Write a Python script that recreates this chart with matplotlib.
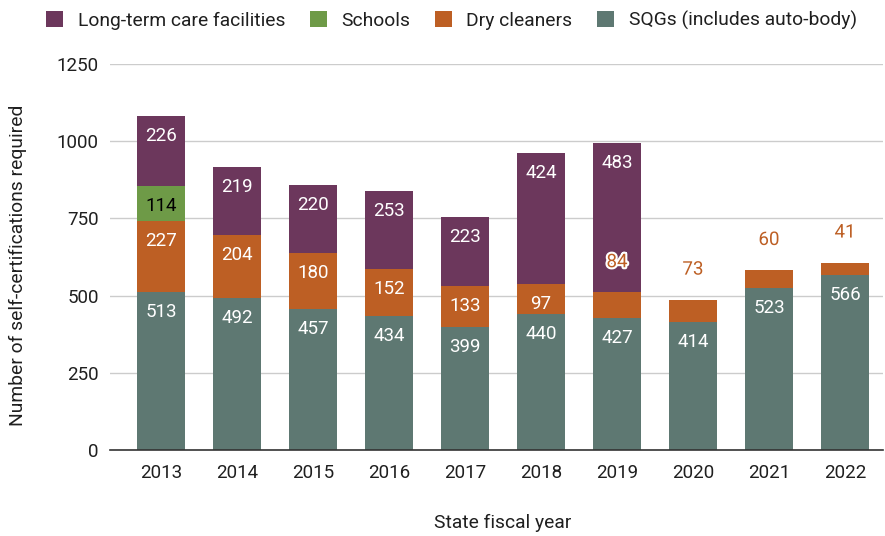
import matplotlib
matplotlib.use('Agg')
import matplotlib.pyplot as plt
import matplotlib.patheffects as pe
import numpy as np

plt.rcParams['font.family'] = ['Roboto', 'DejaVu Sans']

years = ['2013', '2014', '2015', '2016', '2017', '2018', '2019', '2020', '2021', '2022']
sqgs = [513, 492, 457, 434, 399, 440, 427, 414, 523, 566]
dry_cleaners = [227, 204, 180, 152, 133, 97, 84, 73, 60, 41]
schools = [114, 0, 0, 0, 0, 0, 0, 0, 0, 0]
long_term_care = [226, 219, 220, 253, 223, 424, 483, 0, 0, 0]

series = [
    ('SQGs (includes auto-body)', sqgs, '#5e7872', 'white'),
    ('Dry cleaners', dry_cleaners, '#bd5f24', 'white'),
    ('Schools', schools, '#6e9a47', 'black'),
    ('Long-term care facilities', long_term_care, '#6c375c', 'white'),
]

fig = plt.figure(figsize=(8.85, 5.36), dpi=100)
ax = fig.add_axes([110 / 885, 1 - 450 / 536, (883 - 110) / 885, (450 - 64) / 536])

x = np.arange(len(years))
bottom = np.zeros(len(years))
handles = {}
for name, vals, color, txtcol in series:
    vals = np.array(vals, dtype=float)
    bars = ax.bar(x, vals, width=0.63, bottom=bottom, color=color, zorder=3)
    handles[name] = bars
    for i, v in enumerate(vals):
        if v == 0:
            continue
        top = bottom[i] + v
        if v >= 90:
            ax.annotate('%d' % v, (x[i], top), xytext=(0, -20),
                        textcoords='offset pixels', ha='center', va='center',
                        color=txtcol, fontsize=13.5, zorder=5)
        else:
            # small segments get their label above the bar top
            ax.annotate('%d' % v, (x[i], top), xytext=(0, 30),
                        textcoords='offset pixels', ha='center', va='center',
                        color=color, fontsize=13.5, zorder=5,
                        path_effects=[pe.withStroke(linewidth=3, foreground='white')])
    bottom += vals

ax.set_xlim(-0.67, 9.5)
ax.set_ylim(0, 1250)
ax.set_yticks([0, 250, 500, 750, 1000, 1250])
ax.set_xticks(x)
ax.set_xticklabels(years)
ax.tick_params(length=0, labelsize=13.5, colors='#1f1f1f', pad=10)
ax.tick_params(axis='y', pad=8)
ax.grid(axis='y', color='#cccccc', lw=1, zorder=0)
for s in ['top', 'right', 'left']:
    ax.spines[s].set_visible(False)
ax.spines['bottom'].set_color('#333333')
ax.spines['bottom'].set_linewidth(1.2)
ax.spines['bottom'].set_zorder(4)

ax.set_ylabel('Number of self-certifications required', fontsize=13.9, color='#1f1f1f')
ax.set_xlabel('State fiscal year', fontsize=13.9, color='#1f1f1f')
ax.yaxis.set_label_coords(-0.108, 0.479)
ax.xaxis.set_label_coords(0.508, -0.166)

order = ['Long-term care facilities', 'Schools', 'Dry cleaners', 'SQGs (includes auto-body)']
fig.legend([handles[n] for n in order], order, loc='upper center', bbox_to_anchor=(0.51, 1.012),
           ncol=4, frameon=False, fontsize=13.9, handlelength=0.9, handleheight=0.9,
           handletextpad=0.75, columnspacing=1.25, labelcolor='#1f1f1f')

fig.savefig('out.png', dpi=100)
